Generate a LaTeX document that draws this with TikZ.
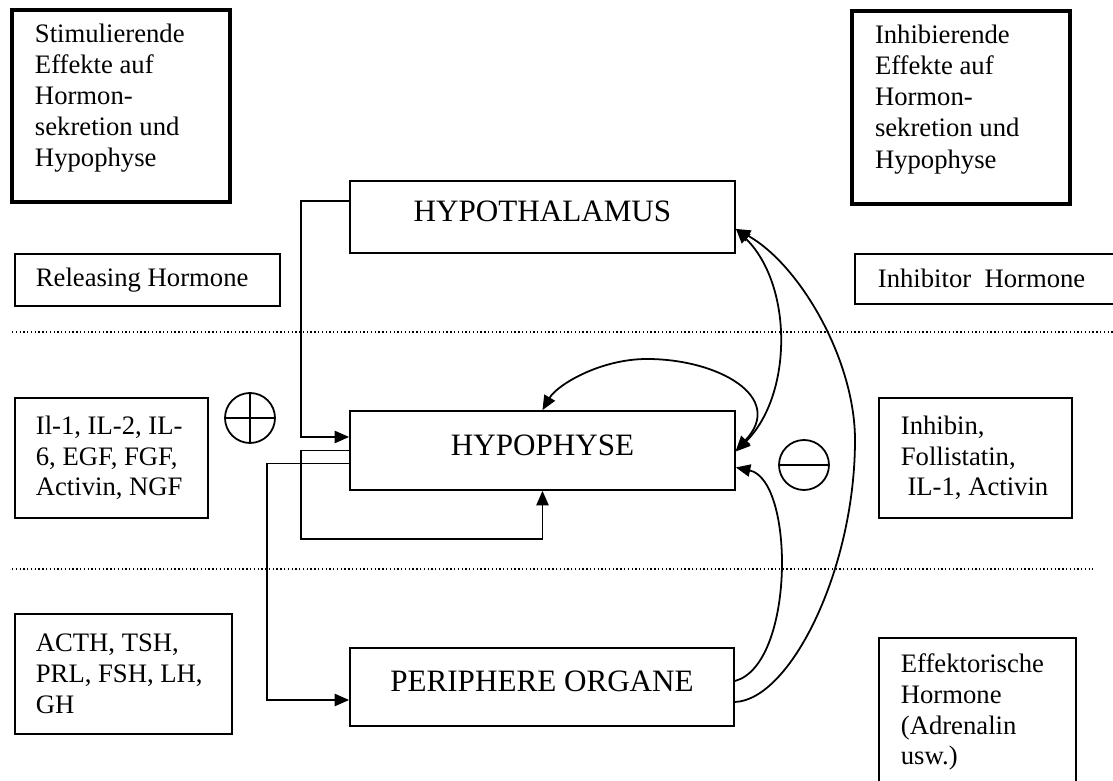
\documentclass[tikz,border=0pt]{standalone}
\usepackage{fontspec}
\setmainfont{Liberation Serif}
\usetikzlibrary{arrows.meta,calc}
\tikzset{>={Triangle[length=6.5pt,width=5.5pt]}}
\tikzset{
  organ/.style={draw, line width=0.8pt, inner sep=0pt, text depth=5pt, font=\fontsize{14}{16}\selectfont},
  infobox/.style={draw, line width=0.8pt, anchor=north west, align=flush left, inner ysep=0pt, font=\fontsize{12}{13.8}\selectfont},
  headbox/.style={infobox, line width=1.8pt, text depth=65.8pt, font=\fontsize{12}{14}\selectfont},
  conn/.style={line width=0.8pt},
  sep/.style={line width=0.6pt, dash pattern=on 0.6pt off 1.1pt},
  sign/.style={circle, draw, line width=0.8pt, minimum size=22.5pt, inner sep=0pt},
}

\begin{document}
\begin{tikzpicture}[x=0.45pt, y=-0.45pt]
\useasboundingbox (0,0) rectangle (1113,781);
% Spalte links
\node[headbox, inner xsep=10.35pt, text width=77.4pt, minimum height=86.4pt] (stim) at (10,8)
  {Stimulierende\\Effekte auf\\Hormon-\\sekretion und\\Hypophyse};
\node[infobox, inner xsep=9.45pt, text width=100.35pt, minimum height=23.4pt] (rel) at (14,253)
  {Releasing Hormone};
\node[infobox, inner xsep=9.45pt, text width=67.95pt, minimum height=54pt] (il) at (14,397)
  {Il-1, IL-2, IL-\\6, EGF, FGF,\\Activin, NGF};
\node[infobox, inner xsep=9.45pt, text width=78.75pt, minimum height=54pt] (acth) at (14,613)
  {ACTH, TSH,\\PRL, FSH, LH,\\GH};
% Spalte rechts
\node[headbox, inner xsep=10.35pt, text width=77.4pt, minimum height=86.85pt] (inhib) at (850,9)
  {Inhibierende\\Effekte auf\\Hormon-\\sekretion und\\Hypophyse};
\node[infobox, inner xsep=10.35pt, text width=200pt, minimum height=22.5pt] (inhor) at (854,253)
  {Inhibitor~ Hormone};
\node[infobox, inner xsep=9.9pt, text width=67.05pt, minimum height=54pt] (inhibin) at (878,397)
  {Inhibin,\\Follistatin,\\\hspace*{3pt}IL-1, Activin};
\node[infobox, inner xsep=9.9pt, text width=68.85pt, minimum height=67.05pt] (effekt) at (878,637)
  {Effektorische\\Hormone\\(Adrenalin\\usw.)};
% Organe
\node[organ, minimum width=173.25pt, minimum height=32.4pt] (hypoth) at (542.5,217) {HYPOTHALAMUS};
\node[organ, minimum width=173.25pt, minimum height=35.55pt] (hypo) at (542.5,450.5) {HYPOPHYSE};
\node[organ, minimum width=172.8pt, minimum height=35.1pt] (peri) at (542,687) {PERIPHERE ORGANE};
% Trennlinien
\draw[sep] (12,332) -- (1113,332);
\draw[sep] (12,569) -- (1093,569);
% Vorzeichen
\node[sign] (plus) at (250,418) {};
\draw[conn] (plus.north) -- (plus.south) (plus.west) -- (plus.east);
\node[sign] (minus) at (804,465) {};
\draw[conn] (minus.west) -- (minus.east);
% Verbindungen links
\draw[conn,->] ($(hypoth.west)+(0,-16)$) -- ++(-48,0) |- ($(hypo.west)+(0,-13.5)$);
\draw[conn,->] (hypo.west) -- ++(-48,0) |- ($(hypo.south)+(0,48)$) -- (hypo.south);
\draw[conn,->] ($(hypo.west)+(0,13)$) -- ++(-82,0) |- ($(peri.west)+(0,13)$);
% Rueckkopplungen rechts
\draw[conn,<->] (hypo.east) .. controls (786,397) and (718,359) .. (647,359)
  .. controls (600,359) and (557,385) .. (hypo.north);
\draw[conn,<->] ($(hypoth.south east)+(0,-25)$) .. controls (793,285) and (793,395) .. ($(hypo.east)+(0,1)$);
\draw[conn,->] ($(peri.east)+(0,15)$) .. controls (790,700) and (855,570) .. (855,440)
  .. controls (855,360) and (800,265) .. ($(hypoth.south east)+(0,-25)$);
\draw[conn,->] ($(peri.east)+(0,-6)$) .. controls (795,665) and (795,480) .. ($(hypo.east)+(0,17)$);
\end{tikzpicture}
\end{document}
